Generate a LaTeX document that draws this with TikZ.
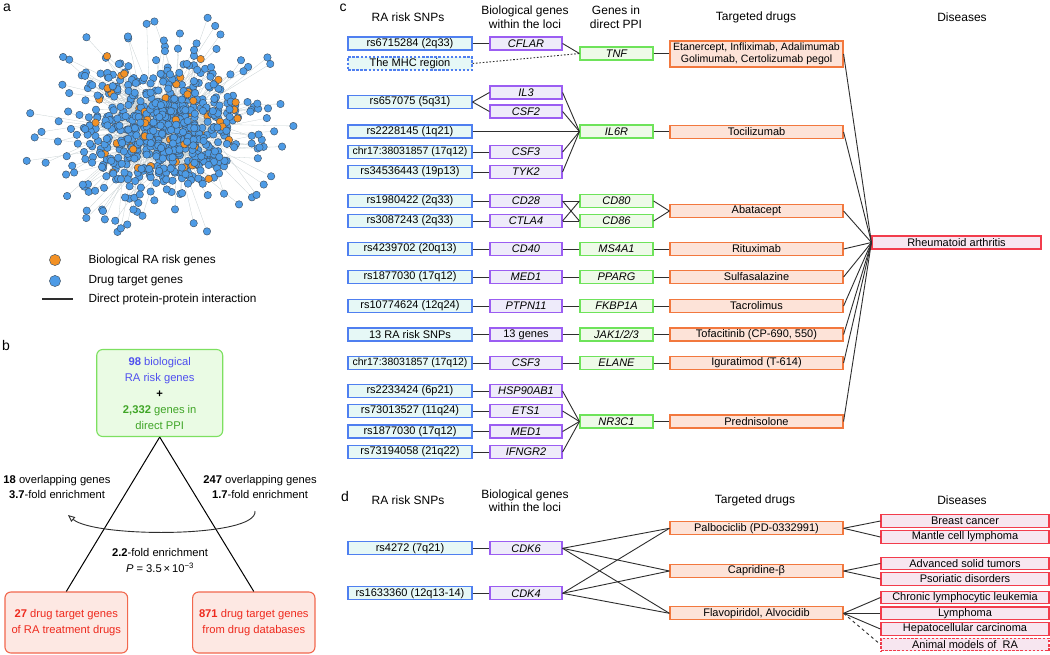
\documentclass[tikz,border=0pt]{standalone}
\usepackage{fontspec}
\setmainfont{Liberation Sans}
\usetikzlibrary{arrows.meta,calc}
\definecolor{snpfill}{HTML}{E6F8F6}
\definecolor{snpdraw}{HTML}{4F7FF0}
\definecolor{genefill}{HTML}{EEEBFA}
\definecolor{genedraw}{HTML}{9B5DF2}
\definecolor{ppifill}{HTML}{EEFAE8}
\definecolor{ppidraw}{HTML}{6EE35A}
\definecolor{drugfill}{HTML}{FDE3D8}
\definecolor{drugdraw}{HTML}{F2783E}
\definecolor{disfill}{HTML}{F7E6F0}
\definecolor{disdraw}{HTML}{F23C4C}
\definecolor{linkgray}{HTML}{2E2E2E}
\definecolor{dotblue}{HTML}{4D9BE6}
\definecolor{dotorange}{HTML}{F39125}
\definecolor{dotedge}{HTML}{3E5266}
\definecolor{netline}{HTML}{C9D2D4}
\definecolor{bgreenfill}{HTML}{EAFBE4}
\definecolor{bgreendraw}{HTML}{7DE060}
\definecolor{bredfill}{HTML}{FDE8E3}
\definecolor{breddraw}{HTML}{F2684E}
\definecolor{bblue}{HTML}{4F4FEF}
\definecolor{bgreen}{HTML}{3FA526}
\definecolor{bred}{HTML}{EE2A1E}
\tikzset{
  cellbox/.style={rectangle, inner sep=0pt, line width=1.15pt, minimum height=13pt,
    font=\fontsize{11}{12.5}\selectfont},
  snpbox/.style={cellbox, draw=snpdraw, fill=snpfill, minimum width=124pt},
  genebox/.style={cellbox, draw=genedraw, fill=genefill, minimum width=72pt,
    font=\fontsize{11}{12.5}\selectfont\itshape},
  ppibox/.style={cellbox, draw=ppidraw, fill=ppifill, minimum width=73pt,
    font=\fontsize{11}{12.5}\selectfont\itshape},
  drugbox/.style={cellbox, draw=drugdraw, fill=drugfill, minimum width=173pt},
  disbox/.style={cellbox, draw=disdraw, fill=disfill, minimum width=168pt, minimum height=12.5pt},
  dashbox/.style={dash pattern=on 2.5pt off 1.6pt},
  narrowtext/.style={font=\fontsize{10.5}{12.5}\selectfont},
  link/.style={draw=linkgray, line width=0.9pt},
  hdr/.style={font=\fontsize{12}{13.5}\selectfont, align=center},
  panellabel/.style={font=\fontsize{14}{14}\selectfont},
  btext/.style={font=\fontsize{11.2}{15.5}\selectfont, align=center},
  dotstyle/.style={draw=dotedge, line width=0.45pt},
}
\begin{document}
\begin{tikzpicture}[x=1pt,y=-1pt]
\useasboundingbox (0,0) rectangle (1050,654);
\fill[white] (0,0) rectangle (1050,654);

% ---------------- panel a ----------------
\node[panellabel] (la) at (7,8) {a};
\pgfmathsetseed{2024}
\foreach \i in {1,...,560}{%
  \pgfmathsetmacro\ax{163+36*(rand+rand+rand)}%
  \pgfmathsetmacro\ay{128+29*(rand+rand+rand)}%
  \pgfmathsetmacro\bx{163+35*rand}%
  \pgfmathsetmacro\by{128+27*rand}%
  \draw[netline, line width=0.3pt] (\ax,\ay) -- (\bx,\by);
  \expandafter\xdef\csname netx\i\endcsname{\ax}%
  \expandafter\xdef\csname nety\i\endcsname{\ay}%
}
\foreach \i in {561,...,720}{%
  \pgfmathsetmacro\ang{360*rnd}%
  \pgfmathsetmacro\rad{0.45+0.6*rnd}%
  \pgfmathsetmacro\ax{158+132*\rad*cos(\ang)}%
  \pgfmathsetmacro\ay{124+110*\rad*sin(\ang)}%
  \pgfmathsetmacro\bx{163+35*rand}%
  \pgfmathsetmacro\by{128+27*rand}%
  \draw[netline, line width=0.3pt] (\ax,\ay) -- (\bx,\by);
  \expandafter\xdef\csname netx\i\endcsname{\ax}%
  \expandafter\xdef\csname nety\i\endcsname{\ay}%
}
\foreach \i in {720,719,...,1}{%
  \pgfmathtruncatemacro\m{(mod(\i,10)==0)&&(\i<561)}%
  \ifnum\m=1 \def\dc{dotorange}\else\def\dc{dotblue}\fi
  \filldraw[dotstyle, fill=\dc] (\csname netx\i\endcsname,\csname nety\i\endcsname) circle (3.7);
}
% legend
\filldraw[dotstyle, fill=dotorange] (55,260) circle (5.6);
\filldraw[dotstyle, fill=dotblue] (55,281) circle (5.6);
\coordinate (lgA) at (42,299);
\coordinate (lgB) at (73,299);
\draw[draw=linkgray, line width=1.2pt] (lgA) -- (lgB);
\node[anchor=west, font=\fontsize{11.8}{13}\selectfont] (lg1) at (85,260) {Biological RA risk genes};
\node[anchor=west, font=\fontsize{11.8}{13}\selectfont] (lg2) at (85,281) {Drug target genes};
\node[anchor=west, font=\fontsize{11.8}{13}\selectfont] (lg3) at (85,299) {Direct protein-protein interaction};

% ---------------- panel b ----------------
\node[panellabel] (lb) at (6,345) {b};
\node[rectangle, rounded corners=6pt, draw=bgreendraw, fill=bgreenfill, line width=1.1pt,
      minimum width=126pt, minimum height=87pt, inner sep=0pt, btext, font=\fontsize{11.2}{16}\selectfont]
  (gbox) at (159.7,393) {\textcolor{bblue}{\textbf{98} biological}\\\textcolor{bblue}{RA risk genes}\\\textbf{+}\\\textcolor{bgreen}{\textbf{2,332} genes in}\\\textcolor{bgreen}{direct PPI}};
\node[rectangle, rounded corners=6pt, draw=breddraw, fill=bredfill, line width=1.1pt,
      minimum width=122.7pt, minimum height=61pt, inner sep=0pt, btext, text=bred, font=\fontsize{11.2}{16.5}\selectfont]
  (lbox) at (66.3,622.5) {\textbf{27} drug target genes\\of RA treatment drugs};
\node[rectangle, rounded corners=6pt, draw=breddraw, fill=bredfill, line width=1.1pt,
      minimum width=122.3pt, minimum height=61pt, inner sep=0pt, btext, text=bred, font=\fontsize{11.2}{16.5}\selectfont]
  (rbox) at (253.8,622.5) {\textbf{871} drug target genes\\from drug databases};
\draw[draw=black, line width=1pt] (gbox.south) -- (lbox.north);
\draw[draw=black, line width=1pt] (gbox.south) -- (rbox.north);
\node[btext] (ov1) at (57,487) {\textbf{18} overlapping genes\\\textbf{3.7}-fold enrichment};
\node[btext] (ov2) at (260,487) {\textbf{247} overlapping genes\\\textbf{1.7}-fold enrichment};
\node[btext] (enr) at (160,560.5) {\textbf{2.2}-fold enrichment\\\textit{P} = 3.5\,×\,10\textsuperscript{−3}};
\coordinate (arrS) at (255,511);
\coordinate (arrE) at (68,515);
\draw[draw=linkgray, line width=0.9pt, -{Triangle[open, length=7pt, width=6pt]}]
  (arrS) .. controls (258,538) and (95,538) .. (arrE);

% ---------------- panel c ----------------
\node[panellabel] (lc) at (343,8) {c};
\node[hdr] (hc1) at (408,17) {RA risk SNPs};
\node[hdr] (hc2) at (525,17) {Biological genes\\within the loci};
\node[hdr] (hc3) at (616,17) {Genes in\\direct PPI};
\node[hdr] (hc4) at (756,17) {Targeted drugs};
\node[hdr] (hc5) at (962,17) {Diseases};

% group TNF
\node[snpbox] (s1) at (410,43.5) {rs6715284 (2q33)};
\node[snpbox, dashbox] (mhc) at (410,63.5) {The MHC region};
\node[genebox] (cflar) at (526,43.5) {CFLAR};
\node[ppibox] (tnf) at (616.5,53.5) {TNF};
\node[drugbox, minimum height=26pt, align=center, font=\fontsize{10.6}{12.5}\selectfont] (dtnf) at (756.5,54)
  {Etanercept, Infliximab, Adalimumab\\Golimumab, Certolizumab pegol};
% group IL6R
\node[snpbox] (s2) at (410,102) {rs657075 (5q31)};
\node[genebox] (il3) at (526,92.5) {IL3};
\node[genebox] (csf2) at (526,111.5) {CSF2};
\node[snpbox] (s3) at (410,131.5) {rs2228145 (1q21)};
\node[ppibox] (il6r) at (616.5,131.5) {IL6R};
\node[drugbox] (dtoc) at (756.5,132) {Tocilizumab};
\node[snpbox, narrowtext] (s4) at (410,152) {chr17:38031857 (17q12)};
\node[genebox] (csf3) at (526,152) {CSF3};
\node[snpbox] (s5) at (410,172) {rs34536443 (19p13)};
\node[genebox] (tyk2) at (526,172) {TYK2};
% group CD80/86
\node[snpbox] (s6) at (410,201) {rs1980422 (2q33)};
\node[genebox] (cd28) at (526,201) {CD28};
\node[ppibox] (cd80) at (616.5,201) {CD80};
\node[snpbox] (s7) at (410,221) {rs3087243 (2q33)};
\node[genebox] (ctla4) at (526,221) {CTLA4};
\node[ppibox] (cd86) at (616.5,221) {CD86};
\node[drugbox] (daba) at (756.5,211) {Abatacept};
% single rows
\node[snpbox] (s8) at (410,249) {rs4239702 (20q13)};
\node[genebox] (cd40) at (526,249) {CD40};
\node[ppibox] (ms4a1) at (616.5,249) {MS4A1};
\node[drugbox] (drit) at (756.5,249) {Rituximab};
\node[snpbox] (s9) at (410,277) {rs1877030 (17q12)};
\node[genebox] (med1a) at (526,277) {MED1};
\node[ppibox] (pparg) at (616.5,277) {PPARG};
\node[drugbox] (dsul) at (756.5,277) {Sulfasalazine};
\node[snpbox] (s10) at (410,306) {rs10774624 (12q24)};
\node[genebox] (ptpn11) at (526,306) {PTPN11};
\node[ppibox] (fkbp) at (616.5,306) {FKBP1A};
\node[drugbox] (dtac) at (756.5,306) {Tacrolimus};
\node[snpbox] (s11) at (410,334.5) {13 RA risk SNPs};
\node[genebox] (g13) at (526,334.5) {\upshape 13 genes};
\node[ppibox] (jak) at (616.5,334.5) {JAK1/2/3};
\node[drugbox] (dtof) at (756.5,334.5) {Tofacitinib (CP-690, 550)};
\node[snpbox, narrowtext] (s12) at (410,363) {chr17:38031857 (17q12)};
\node[genebox] (csf3b) at (526,363) {CSF3};
\node[ppibox] (elane) at (616.5,363) {ELANE};
\node[drugbox] (digu) at (756.5,363) {Iguratimod (T-614)};
% group NR3C1
\node[snpbox] (s13) at (410,391) {rs2233424 (6p21)};
\node[genebox] (hsp) at (526,391) {HSP90AB1};
\node[snpbox] (s14) at (410,411) {rs73013527 (11q24)};
\node[genebox] (ets1) at (526,411) {ETS1};
\node[snpbox] (s15) at (410,431.5) {rs1877030 (17q12)};
\node[genebox] (med1b) at (526,431.5) {MED1};
\node[snpbox] (s16) at (410,452) {rs73194058 (21q22)};
\node[genebox] (ifngr2) at (526,452) {IFNGR2};
\node[ppibox] (nr3c1) at (616.5,421.5) {NR3C1};
\node[drugbox] (dpred) at (756.5,421.5) {Prednisolone};
% disease
\node[disbox, minimum width=169pt, minimum height=13pt] (ra) at (956.5,242.5) {Rheumatoid arthritis};

% connectors panel c
\draw[link] (s1) -- (cflar);
\draw[link] (cflar.east) -- (tnf.west);
\draw[draw=linkgray, line width=0.9pt, dash pattern=on 1.6pt off 1.8pt] (mhc.east) -- (tnf.west);
\draw[link] (tnf) -- (tnf.east -| dtnf.west);
\draw[link] (s2.east) -- (il3.west);
\draw[link] (s2.east) -- (csf2.west);
\draw[link] (s3) -- (il6r);
\draw[link] (s4) -- (csf3);
\draw[link] (s5) -- (tyk2);
\foreach \g in {il3,csf2,csf3,tyk2}{\draw[link] (\g.east) -- (il6r.west);}
\draw[link] (il6r) -- (il6r.east -| dtoc.west);
\draw[link] (s6) -- (cd28);
\draw[link] (s7) -- (ctla4);
\draw[link] (cd28.east) -- (cd80.west);
\draw[link] (cd28.east) -- (cd86.west);
\draw[link] (ctla4.east) -- (cd80.west);
\draw[link] (ctla4.east) -- (cd86.west);
\draw[link] (cd80.east) -- (daba.west);
\draw[link] (cd86.east) -- (daba.west);
\draw[link] (s8) -- (cd40); \draw[link] (cd40) -- (ms4a1); \draw[link] (ms4a1) -- (drit);
\draw[link] (s9) -- (med1a); \draw[link] (med1a) -- (pparg); \draw[link] (pparg) -- (dsul);
\draw[link] (s10) -- (ptpn11); \draw[link] (ptpn11) -- (fkbp); \draw[link] (fkbp) -- (dtac);
\draw[link] (s11) -- (g13); \draw[link] (g13) -- (jak); \draw[link] (jak) -- (dtof);
\draw[link] (s12) -- (csf3b); \draw[link] (csf3b) -- (elane); \draw[link] (elane) -- (digu);
\draw[link] (s13) -- (hsp); \draw[link] (s14) -- (ets1); \draw[link] (s15) -- (med1b); \draw[link] (s16) -- (ifngr2);
\foreach \g in {hsp,ets1,med1b,ifngr2}{\draw[link] (\g.east) -- (nr3c1.west);}
\draw[link] (nr3c1) -- (dpred);
\foreach \d in {dtnf,dtoc,daba,drit,dsul,dtac,dtof,digu,dpred}{\draw[link] (\d.east) -- (ra.west);}

% ---------------- panel d ----------------
\node[panellabel] (ld) at (345,496) {d};
\node[hdr] (hd1) at (408,500.5) {RA risk SNPs};
\node[hdr] (hd2) at (525,500.5) {Biological genes\\within the loci};
\node[hdr] (hd4) at (755,500.5) {Targeted drugs};
\node[hdr] (hd5) at (962,500.5) {Diseases};
\node[snpbox] (t1) at (410,548.3) {rs4272 (7q21)};
\node[snpbox] (t2) at (410,593.3) {rs1633360 (12q13-14)};
\node[genebox] (cdk6) at (526,548.3) {CDK6};
\node[genebox] (cdk4) at (526,593.3) {CDK4};
\node[drugbox] (palb) at (756.5,528.3) {Palbociclib (PD-0332991)};
\node[drugbox] (capr) at (756.5,571) {Capridine-β};
\node[drugbox] (flav) at (756.5,613.3) {Flavopiridol, Alvocidib};
\node[disbox] (e1) at (965,521) {Breast cancer};
\node[disbox] (e2) at (965,537) {Mantle cell lymphoma};
\node[disbox] (e3) at (965,563.5) {Advanced solid tumors};
\node[disbox] (e4) at (965,579) {Psoriatic disorders};
\node[disbox] (e5) at (965,597.5) {Chronic lymphocytic leukemia};
\node[disbox] (e6) at (965,613.3) {Lymphoma};
\node[disbox] (e7) at (965,629) {Hepatocellular carcinoma};
\node[disbox, dashbox] (e8) at (965,644.5) {Animal models of\ \ RA};
\draw[link] (t1) -- (cdk6);
\draw[link] (t2) -- (cdk4);
\foreach \g in {cdk6,cdk4}{\foreach \d in {palb,capr,flav}{\draw[link] (\g.east) -- (\d.west);}}
\draw[link] (palb.east) -- (e1.west);
\draw[link] (palb.east) -- (e2.west);
\draw[link] (capr.east) -- (e3.west);
\draw[link] (capr.east) -- (e4.west);
\draw[link] (flav.east) -- (e5.west);
\draw[link] (flav.east) -- (e6.west);
\draw[link] (flav.east) -- (e7.west);
\draw[draw=linkgray, line width=0.9pt, dashed] (flav.east) -- (e8.west);
\end{tikzpicture}
\end{document}
